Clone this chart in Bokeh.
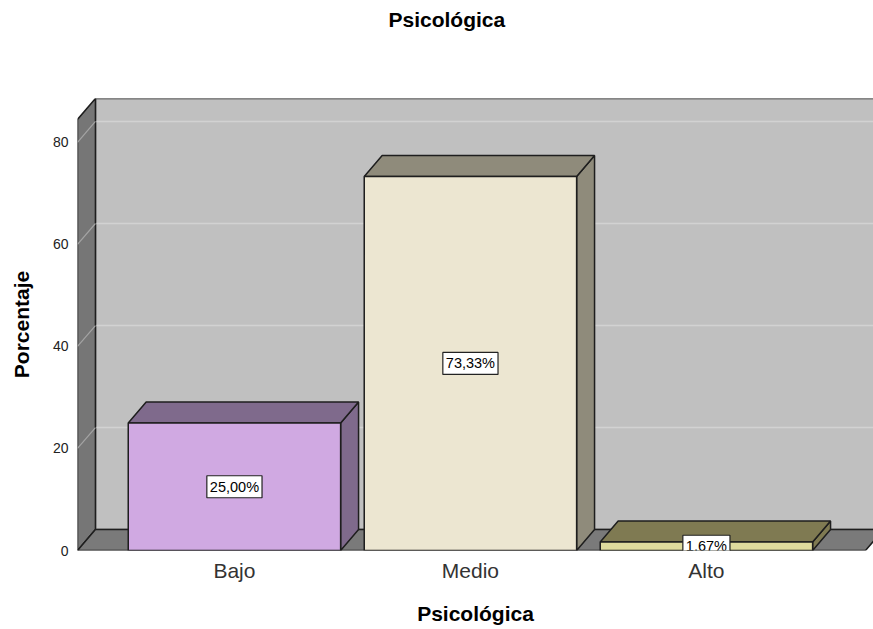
from bokeh.plotting import figure
from bokeh.models import Range1d, Label, FixedTicker, Title
from bokeh.embed import file_html
from bokeh.resources import INLINE

# ---- data ----
categories = ["Bajo", "Medio", "Alto"]
percentages = [25.00, 73.33, 1.67]
value_labels = ["25,00%", "73,33%", "1,67%"]
y_ticks = [0, 20, 40, 60, 80]

# ---- style ----
front_colors = ["#D0A9E2", "#ECE6D1", "#DFDB9D"]
shade_colors = ["#7F6A8C", "#8F8B7B", "#7F7A52"]
BAR_W = 0.9
DX = 0.076          # depth offset (x data units)
DY = 4.1            # depth offset (y data units)
Y_TOP = 84.5        # top of front plane
X0 = -0.665         # frame start
X_END = 2.708       # frame end
FLOOR_R = 2.674     # front-right corner of floor
EDGE = "#1e1e1e"
FONT = "Liberation Sans"

p = figure(width=873, height=629, output_backend="svg", toolbar_location=None,
           title=None,
           x_range=Range1d(X0, X_END), y_range=Range1d(0, Y_TOP + DY),
           min_border_left=77, min_border_right=0, min_border_top=97,
           min_border_bottom=79, background_fill_color="white",
           border_fill_color="white", outline_line_color=None)
p.grid.visible = False

# spacer between frame and title, then the title itself (outer)
p.add_layout(Title(text=" ", text_font=FONT, text_font_size="45px"), "above")
p.add_layout(Title(text="Psicológica", align="left", offset=311,
                   text_font=FONT, text_font_size="21px",
                   text_font_style="bold", text_color="#000000"), "above")

# ---- walls ----
xs_back = X0 + DX
p.quad(left=xs_back, right=X_END + 1, bottom=DY, top=Y_TOP + DY,
       fill_color="#C0C0C0", line_color=EDGE, line_width=1.5)
for t in y_ticks:
    p.segment(x0=xs_back, y0=t + DY, x1=X_END + 1, y1=t + DY,
              line_color="#D2D2D2", line_width=1.5)
p.patch(x=[X0, xs_back, xs_back, X0], y=[0, DY, Y_TOP + DY, Y_TOP],
        fill_color="#767676", line_color=EDGE, line_width=1.5)
for t in y_ticks[1:]:
    p.segment(x0=X0, y0=t, x1=xs_back, y1=t + DY,
              line_color="#A4A4A4", line_width=1.2)
p.patch(x=[X0, xs_back, FLOOR_R + DX, FLOOR_R], y=[0, DY, DY, 0],
        fill_color="#7A7A7A", line_color=EDGE, line_width=1.5)

# ---- 3D bars ----
xc = list(range(len(categories)))
lefts = [x - BAR_W / 2 for x in xc]
rights = [x + BAR_W / 2 for x in xc]
side_xs = [[r, r, r + DX, r + DX] for r in rights]
side_ys = [[0, v, v + DY, DY] for v in percentages]
top_xs = [[l, l + DX, r + DX, r] for l, r in zip(lefts, rights)]
top_ys = [[v, v + DY, v + DY, v] for v in percentages]
p.patches(xs=side_xs, ys=side_ys, fill_color=shade_colors, line_color=EDGE, line_width=1.5)
p.patches(xs=top_xs, ys=top_ys, fill_color=shade_colors, line_color=EDGE, line_width=1.5)
p.quad(left=lefts, right=rights, bottom=0, top=percentages,
       fill_color=front_colors, line_color=EDGE, line_width=1.5)

for x, v, t in zip(xc, percentages, value_labels):
    p.add_layout(Label(x=x, y=v / 2, text=t, text_align="center",
                       text_baseline="middle", text_font=FONT,
                       text_font_size="14.5px", text_color="#000000",
                       background_fill_color="white", border_line_color="#222222",
                       border_line_width=1.2, padding=3, level="overlay"))

# ---- axes ----
xa = p.xaxis[0]
xa.ticker = FixedTicker(ticks=xc)
xa.major_label_overrides = {i: c for i, c in enumerate(categories)}
xa.axis_line_color = None
xa.major_tick_line_color = None
xa.minor_tick_line_color = None
xa.major_tick_out = 0
xa.major_label_standoff = 8
xa.major_label_text_font = FONT
xa.major_label_text_font_size = "21px"
xa.major_label_text_color = "#333333"
xa.axis_label = "Psicológica"
xa.axis_label_text_font = FONT
xa.axis_label_text_font_size = "21px"
xa.axis_label_text_font_style = "bold"
xa.axis_label_text_color = "#000000"
xa.axis_label_standoff = 17

ya = p.yaxis[0]
ya.ticker = FixedTicker(ticks=y_ticks)
ya.axis_line_color = None
ya.major_tick_line_color = None
ya.minor_tick_line_color = None
ya.major_tick_out = 0
ya.major_label_standoff = 9
ya.major_label_text_font = FONT
ya.major_label_text_font_size = "14px"
ya.major_label_text_color = "#222222"
ya.axis_label = "Porcentaje"
ya.axis_label_text_font = FONT
ya.axis_label_text_font_size = "21px"
ya.axis_label_text_font_style = "bold"
ya.axis_label_text_color = "#000000"
ya.axis_label_standoff = 17

open("out.html", "w").write(file_html(p, INLINE))
